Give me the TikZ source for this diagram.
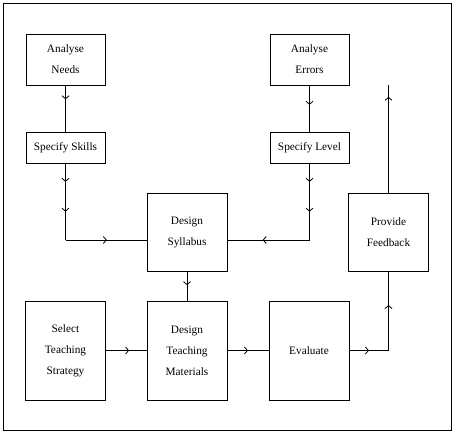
\documentclass[tikz,border=0pt]{standalone}
\usepackage{fontspec}
\setmainfont{Liberation Serif}
\usetikzlibrary{arrows.meta,decorations.markings,positioning}

\begin{document}
\begin{tikzpicture}[x=1pt,y=-1pt,line width=0.8pt,
	box/.style={draw,align=center,inner sep=0pt,font=\fontsize{11.3}{21}\selectfont},
	short/.style={box,minimum width=79pt,minimum height=31pt},
	square/.style={box,minimum width=79pt,minimum height=51pt},
	block/.style={box,minimum width=80pt,minimum height=78pt},
	big/.style={box,minimum width=80pt,minimum height=99pt},
	tip at/.style={postaction={decorate,decoration={markings,
		mark=at position #1 with {\arrow{Straight Barb[length=3pt,width=7pt]}}}}}]
\useasboundingbox (0,0) rectangle (453,432);
\draw (3,3) rectangle (451,430);

% top two columns
\node[square] at (65.5,59.5) (needs) {Analyse\\Needs};
\node[short] at (65.5,147.5) (skills) {Specify Skills};
\node[square] at (309.5,59.5) (errors) {Analyse\\Errors};
\node[short] at (309.5,147.5) (level) {Specify Level};

% middle row
\node[block] at (187,232) (syllabus) {Design\\Syllabus};
\node[block] at (388.5,232) (feedback) {Provide\\Feedback};

% bottom row
\node[big] at (65.5,350.5) (strategy) {Select\\Teaching\\Strategy};
\node[big] at (187,350.5) (materials) {Design\\Teaching\\Materials};
\node[big] at (309,350.5) (evaluate) {Evaluate};

\coordinate (skcorner) at (65.5,240);
\coordinate (lvcorner) at (309.5,240);
\coordinate (evcorner) at (feedback.south |- evaluate.east);
\coordinate (fbtop) at (388.5,85);

\draw[tip at=0.3] (needs) -- (skills);
\draw[tip at=0.42] (errors) -- (level);
\draw[tip at=0.24,tip at=0.63] (skills) -- (skcorner);
\draw[tip at=0.51] (skcorner) -- (skcorner -| syllabus.west);
\draw[tip at=0.24,tip at=0.63] (level) -- (lvcorner);
\draw[tip at=0.57] (lvcorner) -- (lvcorner -| syllabus.east);
\draw[tip at=0.47] (syllabus) -- (materials);
\draw[tip at=0.57] (strategy) -- (materials);
\draw[tip at=0.5] (materials) -- (evaluate);
\draw[tip at=0.5] (evaluate) -- (evcorner);
\draw[tip at=0.575] (evcorner) -- (feedback);
\draw[tip at=0.89] (feedback) -- (fbtop);
\end{tikzpicture}
\end{document}
